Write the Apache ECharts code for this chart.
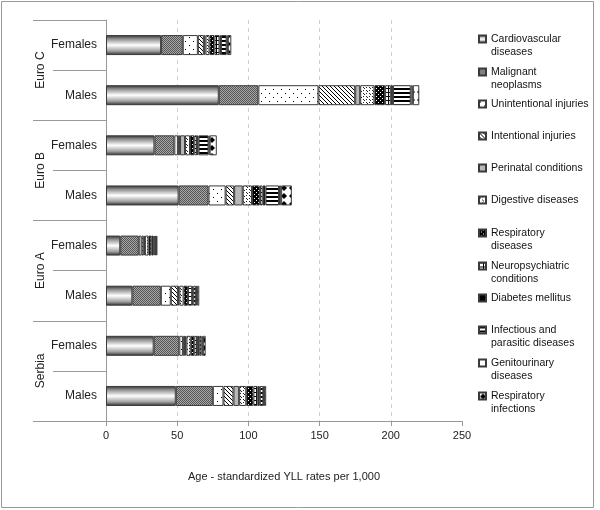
<!DOCTYPE html>
<html><head><meta charset="utf-8">
<script src="https://cdn.jsdelivr.net/npm/echarts@6/dist/echarts.min.js"></script>
<style>html,body{margin:0;padding:0;background:#fff}#c{width:600px;height:510px}</style>
</head><body><div id="c"></div>
<script>
// Rows from bottom to top
const groups = ['Serbia', 'Euro A', 'Euro B', 'Euro C'];
const sexes = ['Males', 'Females'];
const xTicks = [0, 50, 100, 150, 200, 250];
const causes = ['Cardiovascular\ndiseases', 'Malignant\nneoplasms', 'Unintentional injuries', 'Intentional injuries',
  'Perinatal conditions', 'Digestive diseases', 'Respiratory\ndiseases', 'Neuropsychiatric\nconditions',
  'Diabetes mellitus', 'Infectious and\nparasitic diseases', 'Genitourinary\ndiseases', 'Respiratory\ninfections'];
// order: Serbia M, Serbia F, Euro A M, Euro A F, Euro B M, Euro B F, Euro C M, Euro C F
const cardiovascular = [49, 33.5, 18.5, 10, 51, 34, 79.2, 38.7];
const malignant      = [26, 18, 20, 13, 21, 14, 27.8, 15.2];
const unintentional  = [7.5, 2.5, 7, 2, 12, 2.5, 42.2, 10.6];
const intentional    = [7, 1.5, 5, 1.5, 6, 1.5, 25.8, 4.2];
const perinatal      = [4, 1, 1, 0.8, 6, 3.5, 3.5, 1.2];
const digestive      = [5, 3, 3, 2.5, 6.5, 3.5, 10, 2.8];
const respiratoryDis = [5, 2.5, 3, 2, 5.5, 3, 7.5, 3.5];
const neuro          = [3, 2, 3, 1.5, 2, 2, 4, 3.5];
const diabetes       = [1.5, 1.5, 0.8, 0.7, 2, 1, 1.5, 1];
const infectious     = [2.5, 1.5, 2, 0.8, 9.5, 7, 12.5, 4];
const genitourinary  = [0.5, 1, 0.7, 0.5, 1.5, 0.8, 1.5, 0.8];
const respiratoryInf = [1.5, 2, 1.5, 0.7, 7.5, 5, 4.5, 2.5];
const seriesValues = [cardiovascular, malignant, unintentional, intentional, perinatal, digestive,
  respiratoryDis, neuro, diabetes, infectious, genitourinary, respiratoryInf];

const rowKeys = [];
groups.forEach(g => sexes.forEach(s => rowKeys.push(g + '|' + s)));

function mk(w, h, f) {
  const c = document.createElement('canvas'); c.width = w; c.height = h;
  const g = c.getContext('2d'); f(g); return { image: c, repeat: 'repeat' };
}
function px(g, pts, col) { g.fillStyle = col; pts.forEach(p => g.fillRect(p[0], p[1], 1, 1)); }

const fills = [
  new echarts.graphic.LinearGradient(0, 0, 0, 1, [
    { offset: 0, color: '#2a2a2a' }, { offset: 0.18, color: '#8a8a8a' }, { offset: 0.5, color: '#ffffff' },
    { offset: 0.8, color: '#a0a0a0' }, { offset: 1, color: '#2a2a2a' }]),
  mk(4, 4, g => { g.fillStyle = '#a8a8a8'; g.fillRect(0, 0, 4, 4); px(g, [[0,0],[2,0],[1,1],[3,1],[0,2],[2,2],[1,3],[3,3]], '#555'); }),
  mk(8, 8, g => { g.fillStyle = '#fff'; g.fillRect(0, 0, 8, 8); px(g, [[1,1],[5,5]], '#000'); }),
  mk(4, 4, g => { g.fillStyle = '#fff'; g.fillRect(0, 0, 4, 4); px(g, [[0,0],[1,1],[2,2],[3,3]], '#000'); }),
  '#b8b8b8',
  mk(6, 6, g => { g.fillStyle = '#fff'; g.fillRect(0, 0, 6, 6); px(g, [[0,0],[1,1],[3,3],[4,4],[3,0],[0,3]], '#222'); }),
  mk(4, 4, g => { g.fillStyle = '#000'; g.fillRect(0, 0, 4, 4); px(g, [[0,0],[2,2]], '#fff'); }),
  mk(4, 4, g => { g.fillStyle = '#fff'; g.fillRect(0, 0, 4, 4); g.fillStyle = '#000'; g.fillRect(0, 0, 1, 4); g.fillRect(0, 0, 4, 1); }),
  '#000000',
  mk(1, 4, g => { g.fillStyle = '#fff'; g.fillRect(0, 0, 1, 4); g.fillStyle = '#000'; g.fillRect(0, 0, 1, 2); }),
  '#ffffff',
  mk(8, 8, g => { g.fillStyle = '#fff'; g.fillRect(0, 0, 8, 8); g.fillStyle = '#000'; g.beginPath();
    g.moveTo(4, 1); g.lineTo(7, 4); g.lineTo(4, 7); g.lineTo(1, 4); g.closePath(); g.fill(); })
];

const legendCenters = [39, 72, 104, 136, 168, 200, 233, 266, 298, 330, 363, 396];
const legends = causes.map((name, i) => {
  const two = name.indexOf('\n') >= 0;
  return {
    data: [name], left: 478, top: legendCenters[i] - (two ? 19.5 : 6.5), padding: 0,
    orient: 'vertical', itemWidth: 7, itemHeight: 7, selectedMode: false, icon: 'rect',
    formatter: n => (n.indexOf('\n') >= 0 ? ' \n' + n : n),
    textStyle: { fontSize: 10.5, lineHeight: 13, color: '#111', fontFamily: 'Liberation Sans' }
  };
});

const chart = echarts.init(document.getElementById('c'), null, { renderer: 'canvas' });
chart.setOption({
  animation: false,
  backgroundColor: '#fff',
  textStyle: { fontFamily: 'Liberation Sans' },
  graphic: [{ type: 'rect', shape: { x: 1.5, y: 1.5, width: 592, height: 506 },
    style: { fill: 'none', stroke: '#999', lineWidth: 1 }, silent: true }],
  legend: legends,
  grid: { left: 106, right: 138, top: 20, bottom: 89 },
  xAxis: {
    type: 'value', min: xTicks[0], max: xTicks[xTicks.length - 1], interval: xTicks[1] - xTicks[0],
    axisLine: { show: true, lineStyle: { color: '#999' } },
    axisTick: { show: true, length: 5, lineStyle: { color: '#999' } },
    splitLine: { show: true, showMinLine: false, showMaxLine: false, lineStyle: { color: '#d0d0d0', type: [4, 4] } },
    axisLabel: { fontSize: 11, color: '#222', margin: 9 },
    name: 'Age - standardized YLL rates per 1,000', nameLocation: 'middle', nameGap: 50,
    nameTextStyle: { fontSize: 11, color: '#222' }
  },
  yAxis: [
    { type: 'category', data: rowKeys,
      axisLine: { show: true, lineStyle: { color: '#999' } },
      axisTick: { show: true, length: 53, lineStyle: { color: '#999' } },
      axisLabel: { formatter: v => v.split('|')[1], fontSize: 12, color: '#222', margin: 9 } },
    { type: 'category', data: groups, position: 'left', offset: 73,
      axisLine: { show: false },
      axisTick: { show: true, inside: true, length: 73, lineStyle: { color: '#999' } },
      axisLabel: { rotate: 90, inside: true, margin: 2, fontSize: 12, color: '#222' } }
  ],
  series: causes.map((name, i) => ({
    name, type: 'bar', stack: 'all', barWidth: 20, yAxisIndex: 0,
    itemStyle: { color: fills[i], borderColor: '#3a3a3a', borderWidth: 1 },
    data: seriesValues[i]
  }))
});
</script></body></html>
